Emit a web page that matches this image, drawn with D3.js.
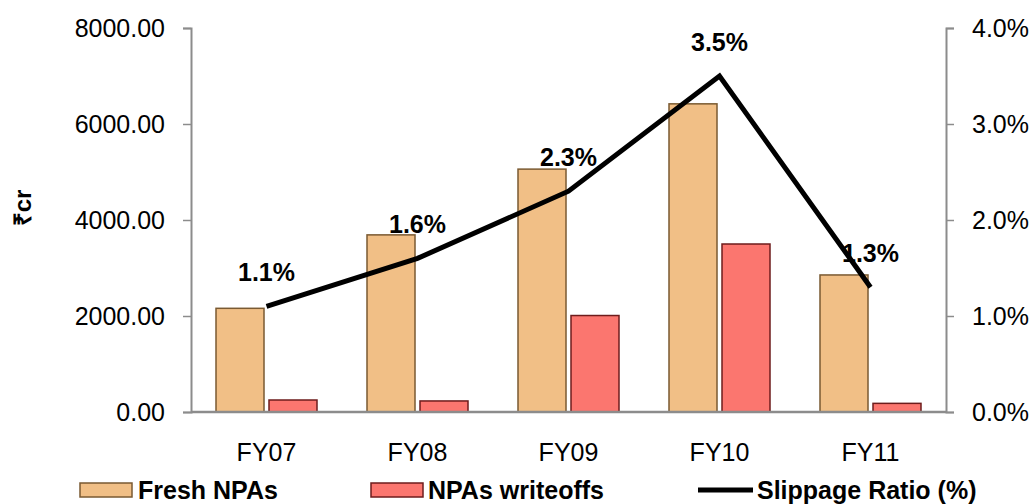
<!DOCTYPE html>
<html>
<head>
<meta charset="utf-8">
<script src="https://cdn.jsdelivr.net/npm/d3@7"></script>
<style>
  html, body { margin: 0; padding: 0; background: #fff; }
  svg { display: block; font-family: Arial, "Liberation Sans", sans-serif; }
</style>
</head>
<body>
<svg id="chart" width="1034" height="504"></svg>
<script>
// Fiscal years and series
const categories = ["FY07", "FY08", "FY09", "FY10", "FY11"];
const freshNPAs = [2160, 3690, 5060, 6420, 2855];      // ₹ cr
const npaWriteoffs = [250, 230, 2010, 3500, 180];      // ₹ cr
const slippageRatio = [1.1, 1.6, 2.3, 3.5, 1.3];       // %
const leftTicks = [0, 2000, 4000, 6000, 8000];
const rightTicks = [0, 1, 2, 3, 4];
const seriesNames = ["Fresh NPAs", "NPAs writeoffs", "Slippage Ratio (%)"];

const svg = d3.select("#chart");
const plot = { left: 191, right: 946, top: 28, bottom: 412 };

const x = d3.scaleBand().domain(categories).range([plot.left, plot.right]).padding(0);
const yL = d3.scaleLinear().domain([0, 8000]).range([plot.bottom, plot.top]);
const yR = d3.scaleLinear().domain([0, 4]).range([plot.bottom, plot.top]);

const axisColor = "#8c8c8c";
const freshFill = "#F1BF86", freshStroke = "#7A5A32";
const woFill = "#FB766F", woStroke = "#6E1C1C";

// Left axis
const leftAxis = svg.append("g")
  .attr("transform", `translate(${plot.left},0)`)
  .call(d3.axisLeft(yL).tickValues(leftTicks).tickSize(8).tickPadding(18)
    .tickFormat(d => d3.format(".2f")(d)));
// Right axis
const rightAxis = svg.append("g")
  .attr("transform", `translate(${plot.right},0)`)
  .call(d3.axisRight(yR).tickValues(rightTicks).tickSize(8).tickPadding(18)
    .tickFormat(d => d.toFixed(1) + "%"));

[leftAxis, rightAxis].forEach(g => {
  g.select(".domain").attr("stroke", axisColor).attr("stroke-width", 2);
  g.selectAll(".tick line").attr("stroke", axisColor).attr("stroke-width", 1.5);
  g.selectAll(".tick text").attr("fill", "#000").attr("font-size", 25)
    .attr("font-family", "Arial, 'Liberation Sans', sans-serif");
});

// Category labels
svg.append("g").selectAll("text").data(categories).join("text")
  .attr("x", d => x(d) + x.bandwidth() / 2)
  .attr("y", 461)
  .attr("text-anchor", "middle")
  .attr("font-size", 25)
  .text(d => d);

// Bars
const bw = x.bandwidth();
const barW = 48, gap = 5;
svg.append("g").selectAll("rect").data(categories).join("rect")
  .attr("x", d => x(d) + bw / 2 - gap / 2 - barW)
  .attr("y", (d, i) => yL(freshNPAs[i]))
  .attr("width", barW)
  .attr("height", (d, i) => yL(0) - yL(freshNPAs[i]))
  .attr("fill", freshFill).attr("stroke", freshStroke).attr("stroke-width", 1.5);

svg.append("g").selectAll("rect").data(categories).join("rect")
  .attr("x", d => x(d) + bw / 2 + gap / 2)
  .attr("y", (d, i) => yL(npaWriteoffs[i]))
  .attr("width", barW)
  .attr("height", (d, i) => yL(0) - yL(npaWriteoffs[i]))
  .attr("fill", woFill).attr("stroke", woStroke).attr("stroke-width", 1.5);

// Baseline
svg.append("line")
  .attr("x1", plot.left).attr("x2", plot.right)
  .attr("y1", plot.bottom).attr("y2", plot.bottom)
  .attr("stroke", axisColor).attr("stroke-width", 2.5);

// Slippage ratio line
const line = d3.line()
  .x((d, i) => x(categories[i]) + bw / 2)
  .y(d => yR(d));
svg.append("path").datum(slippageRatio)
  .attr("d", line)
  .attr("fill", "none").attr("stroke", "#000").attr("stroke-width", 5)
  .attr("stroke-linejoin", "miter");

// Value labels
svg.append("g").selectAll("text").data(slippageRatio).join("text")
  .attr("x", (d, i) => x(categories[i]) + bw / 2)
  .attr("y", d => yR(d) - 25)
  .attr("text-anchor", "middle")
  .attr("font-size", 25).attr("font-weight", "bold")
  .text(d => d.toFixed(1) + "%");

// Y-axis title
svg.append("text")
  .attr("transform", "translate(31,208) rotate(-90)")
  .attr("text-anchor", "middle")
  .attr("font-size", 24).attr("font-weight", "bold")
  .text("₹cr");

// Legend
const lg = svg.append("g").attr("font-size", 25).attr("font-weight", "bold");
lg.append("rect").attr("x", 80).attr("y", 483).attr("width", 52).attr("height", 14)
  .attr("fill", freshFill).attr("stroke", freshStroke).attr("stroke-width", 1.5);
lg.append("text").attr("x", 138).attr("y", 499).text(seriesNames[0]);
lg.append("rect").attr("x", 371).attr("y", 483).attr("width", 52).attr("height", 14)
  .attr("fill", woFill).attr("stroke", woStroke).attr("stroke-width", 1.5);
lg.append("text").attr("x", 428).attr("y", 499).text(seriesNames[1]);
lg.append("line").attr("x1", 698).attr("x2", 753).attr("y1", 490).attr("y2", 490)
  .attr("stroke", "#000").attr("stroke-width", 5);
lg.append("text").attr("x", 757).attr("y", 499).text(seriesNames[2]);
</script>
</body>
</html>
